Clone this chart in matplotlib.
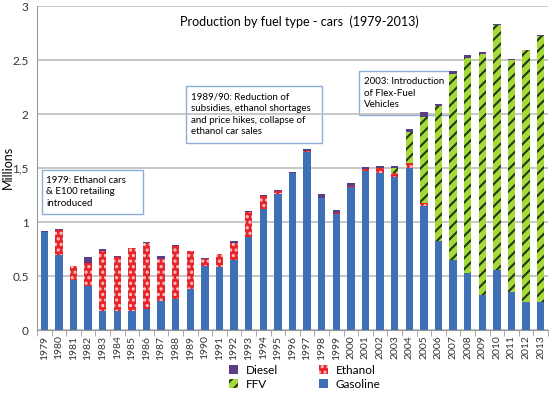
import numpy as np
import matplotlib
matplotlib.use("Agg")
import matplotlib.pyplot as plt
from matplotlib.patches import Rectangle

plt.rcParams['font.family'] = ['Lato', 'DejaVu Sans']
plt.rcParams['hatch.linewidth'] = 1.5

years = [str(y) for y in range(1979, 2014)]

# millions of cars
gasoline = [0.905, 0.69, 0.465, 0.41, 0.18, 0.175, 0.18, 0.19, 0.27, 0.29,
            0.38, 0.59, 0.58, 0.65, 0.86, 1.12, 1.26, 1.45, 1.65, 1.22,
            1.07, 1.32, 1.47, 1.45, 1.42, 1.50, 1.15, 0.82, 0.65, 0.53,
            0.32, 0.56, 0.35, 0.26, 0.26]
ethanol = [0.005, 0.24, 0.125, 0.215, 0.55, 0.50, 0.575, 0.62, 0.39, 0.49,
           0.35, 0.07, 0.12, 0.16, 0.23, 0.12, 0.03, 0.005, 0.005, 0.005,
           0.01, 0.01, 0.02, 0.05, 0.03, 0.045, 0.03, 0.0, 0.0, 0.0,
           0.0, 0.0, 0.0, 0.0, 0.0]
ffv = [0, 0, 0, 0, 0, 0, 0, 0, 0, 0,
       0, 0, 0, 0, 0, 0, 0, 0, 0, 0,
       0, 0, 0, 0, 0.05, 0.29, 0.795, 1.25, 1.72, 1.99,
       2.24, 2.26, 2.15, 2.33, 2.465]
diesel = [0.01, 0.005, 0.0, 0.05, 0.02, 0.01, 0.005, 0.005, 0.025, 0.005,
          0.005, 0.005, 0.005, 0.01, 0.01, 0.01, 0.01, 0.01, 0.02, 0.03,
          0.03, 0.035, 0.015, 0.02, 0.015, 0.03, 0.04, 0.025, 0.03, 0.025,
          0.015, 0.01, 0.005, 0.005, 0.005]

ytick_vals = [0, 0.5, 1, 1.5, 2, 2.5, 3]
ytick_labels = ['0', '0.5', '1', '1,5', '2', '2.5', '3']

notes = ['1979: Ethanol cars\n& E100 retailing\nintroduced',
         '1989/90: Reduction of\nsubsidies, ethanol shortages\nand price hikes, collapse of\nethanol car sales',
         '2003: Introduction\nof Flex-Fuel\nVehicles']

fig = plt.figure(figsize=(5.5, 3.93), dpi=100)
ax = fig.add_axes([0.0673, 0.1603, 0.929, 0.8244])
ax.set_facecolor('none')

x = np.arange(len(years))
w = 0.5
g = np.array(gasoline)
e = np.array(ethanol)
f = np.array(ffv)
d = np.array(diesel)

b_gas = ax.bar(x, g, w, color='#3F6FB5', linewidth=0, zorder=2, label='Gasoline')
b_eth = ax.bar(x, e, w, bottom=g, color='#E8242B', edgecolor='#F6C8C8',
               hatch='...', linewidth=0, zorder=2, label='Ethanol')
b_ffv = ax.bar(x, f, w, bottom=g + e, color='#A8D93A', edgecolor='#1E3A10',
               hatch='///', linewidth=0, zorder=2, label='FFV')
b_die = ax.bar(x, d, w, bottom=g + e + f, color='#5A3E85', linewidth=0,
               zorder=2, label='Diesel')

ax.set_xlim(-0.5, len(years) - 0.5)
ax.set_ylim(0, 3)
ax.set_yticks(ytick_vals)
ax.set_yticklabels(ytick_labels, fontsize=8.5, color='#333333')
ax.set_xticks(x)
ax.set_xticklabels(years, rotation=90, fontsize=7.5, color='#333333')
ax.set_xticks(np.arange(-0.5, len(years), 1), minor=True)
ax.tick_params(axis='x', which='major', length=0, pad=4)
ax.tick_params(axis='x', which='minor', length=4, color='#9a9a9a')
ax.tick_params(axis='y', length=0, pad=6)
ax.grid(axis='y', color='#BEBEBE', linewidth=1.2, zorder=0)
for s in ['top', 'right']:
    ax.spines[s].set_visible(False)
ax.spines['left'].set_color('#9a9a9a')
ax.spines['bottom'].set_color('#9a9a9a')
ax.set_ylabel('Millions', fontsize=9)
ax.yaxis.set_label_coords(-0.046, 0.503)

fig.text(0.545, 0.945, 'Production by fuel type - cars  (1979-2013)',
         ha='center', va='center', fontsize=9)

# fixed-size text boxes (figure fraction), behind the bars but above the grid
box_rects = [(0.0764, 0.4555, 0.1836, 0.112),
             (0.3382, 0.6361, 0.2473, 0.145),
             (0.6527, 0.7074, 0.1655, 0.112)]
text_pos = [(0.0842, 0.5115), (0.3464, 0.7087), (0.6624, 0.7626)]
for (bx, by, bw, bh), (tx, ty), txt in zip(box_rects, text_pos, notes):
    ax.add_patch(Rectangle((bx, by), bw, bh, transform=fig.transFigure,
                           facecolor='white', edgecolor='#8EADD6', linewidth=1,
                           zorder=1.5, clip_on=False))
    ax.text(tx, ty, txt, transform=fig.transFigure, fontsize=7.05, va='center',
            ha='left', linespacing=1.38, zorder=1.6)

fig.legend([b_die, b_ffv, b_eth, b_gas], ['Diesel', 'FFV', 'Ethanol', 'Gasoline'],
           ncol=2, loc='center', bbox_to_anchor=(0.554, 0.04), frameon=False,
           fontsize=8.5, handlelength=0.8, handleheight=0.8, columnspacing=3.5,
           labelspacing=0.3, handletextpad=0.6)

fig.savefig('out.png', dpi=100)
